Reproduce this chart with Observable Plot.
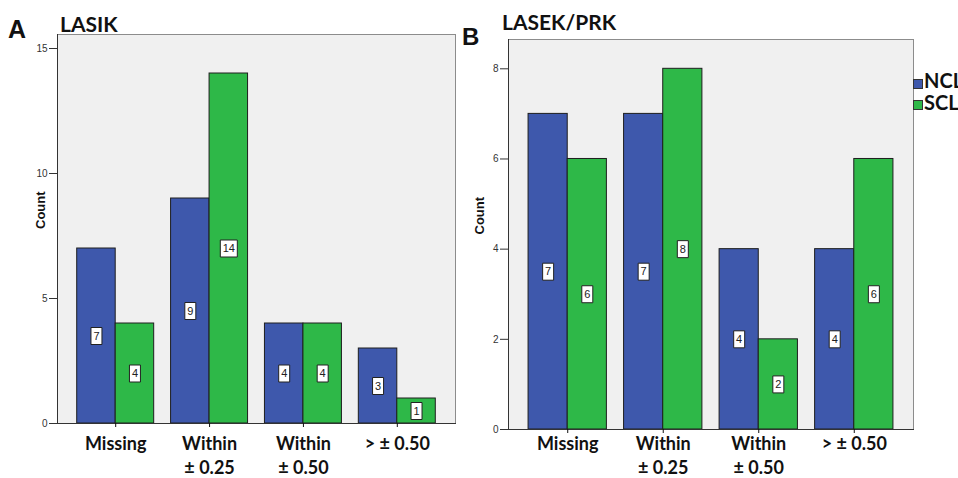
<!DOCTYPE html>
<html>
<head>
<meta charset="utf-8">
<script src="https://cdn.jsdelivr.net/npm/d3@7"></script>
<script src="https://cdn.jsdelivr.net/npm/@observablehq/plot@0.6"></script>
<style>
  html, body { margin: 0; padding: 0; background: #fff; }
  #wrap { position: relative; width: 958px; height: 478px; overflow: hidden; background: #fff; }
  .panel { position: absolute; top: 0; }
  .tag { position: absolute; font-family: "Liberation Sans", Arial, sans-serif; font-weight: bold; line-height: 1; color: #111; }
  .title { position: absolute; font-family: Lato, "Open Sans", sans-serif; font-weight: bold; line-height: 1; color: #111; white-space: nowrap; }
  .leg { position: absolute; font-family: Lato, "Open Sans", sans-serif; font-weight: bold; font-size: 20px; line-height: 20px; color: #111; white-space: nowrap; }
  .sw { position: absolute; width: 8px; height: 8px; border: 1px solid #333; }
</style>
</head>
<body>
<div id="wrap"></div>
<script>
// ---- data ----
const categories = ["Missing", "Within\n± 0.25", "Within\n± 0.50", "> ± 0.50"];
const seriesNames = ["NCL", "SCL"];
const seriesColors = ["#3e58ac", "#2eb848"];

const lasikNCL = [7, 9, 4, 3];
const lasikSCL = [4, 14, 4, 1];
const lasekNCL = [7, 7, 4, 4];
const lasekSCL = [6, 8, 2, 6];

const lasikTicks = [0, 5, 10, 15];
const lasekTicks = [0, 2, 4, 6, 8];

// ---- layout constants ----
const BAR_W = 0.41;
const X_DOMAIN = [-0.62, 3.62];

function rowsFor(ncl, scl) {
  return categories.flatMap((cat, i) => seriesNames.map((s, j) => ({
    i, cat, series: s, j, value: j === 0 ? ncl[i] : scl[i]
  })));
}

function boxSymbol(w, h) {
  return {
    draw(ctx) {
      ctx.moveTo(-w / 2, -h / 2);
      ctx.lineTo(w / 2, -h / 2);
      ctx.lineTo(w / 2, h / 2);
      ctx.lineTo(-w / 2, h / 2);
      ctx.closePath();
    }
  };
}
const box1 = boxSymbol(11, 17);
const box2 = boxSymbol(17, 17);

function panel({ncl, scl, yMax, yTicks, width, marginLeft, marginRight, marginTop, marginBottom, countDx, xPad}) {
  const rows = rowsFor(ncl, scl);
  const cx = d => d.i + (d.j - 0.5) * BAR_W;
  return Plot.plot({
    width, height: 478,
    marginLeft, marginRight, marginTop, marginBottom,
    style: { fontFamily: "'Liberation Sans', Arial, sans-serif", background: "transparent", overflow: "visible" },
    x: { type: "linear", domain: X_DOMAIN },
    y: { domain: [0, yMax] },
    color: { domain: seriesNames, range: seriesColors },
    marks: [
      Plot.frame({ fill: "#f0f0f0", stroke: "#8c8c8c" }),
      Plot.rectY(rows, {
        x1: d => d.i - BAR_W + d.j * BAR_W,
        x2: d => d.i + d.j * BAR_W,
        y1: 0, y2: "value",
        fill: "series", stroke: "#1e1e1e", strokeWidth: 1
      }),
      Plot.dot(rows.filter(d => d.value < 10), { x: cx, y: d => d.value / 2, symbol: box1, fill: "white", stroke: "#222", strokeWidth: 1 }),
      Plot.dot(rows.filter(d => d.value >= 10), { x: cx, y: d => d.value / 2, symbol: box2, fill: "white", stroke: "#222", strokeWidth: 1 }),
      Plot.text(rows, { x: cx, y: d => d.value / 2, text: d => String(d.value), fontSize: 11, fill: "#222" }),
      Plot.frame({ anchor: "left", stroke: "#333" }),
      Plot.frame({ anchor: "bottom", stroke: "#333" }),
      Plot.axisY({ ticks: yTicks, tickSize: 8, tickPadding: 2, fontSize: 10, label: null, color: "#333" }),
      Plot.axisX({
        ticks: [0, 1, 2, 3], tickFormat: i => categories[i], tickSize: 4, tickPadding: xPad,
        fontSize: 18, fontWeight: "bold", fontFamily: "Lato, 'Open Sans', sans-serif",
        lineHeight: 1.3, label: null, color: "#111"
      }),
      Plot.text(["Count"], { frameAnchor: "left", rotate: -90, dx: countDx, fontSize: 13, fontWeight: "bold", fill: "#111" })
    ]
  });
}

const wrap = document.getElementById("wrap");

const a = panel({ ncl: lasikNCL, scl: lasikSCL, yMax: 15.56, yTicks: lasikTicks, width: 460,
  marginLeft: 57, marginRight: 5, marginTop: 34, marginBottom: 55, countDx: -17, xPad: 6 });
a.classList.add("panel"); a.style.left = "0px";
wrap.appendChild(a);

const b = panel({ ncl: lasekNCL, scl: lasekSCL, yMax: 8.65, yTicks: lasekTicks, width: 498,
  marginLeft: 48, marginRight: 45, marginTop: 39, marginBottom: 49, countDx: -29, xPad: 0 });
b.classList.add("panel"); b.style.left = "460px";
wrap.appendChild(b);

function addDiv(cls, text, css) {
  const d = document.createElement("div");
  d.className = cls;
  d.textContent = text;
  Object.assign(d.style, css);
  wrap.appendChild(d);
  return d;
}
addDiv("tag", "A", { left: "8px", top: "17px", fontSize: "25px" });
addDiv("tag", "B", { left: "462px", top: "25px", fontSize: "24px" });
addDiv("title", "LASIK", { left: "60px", top: "13px", fontSize: "21px" });
addDiv("title", "LASEK/PRK", { left: "502px", top: "11px", fontSize: "21px" });

seriesNames.forEach((s, k) => {
  addDiv("sw", "", { left: "913px", top: (79 + k * 21) + "px", background: seriesColors[k] });
  addDiv("leg", s, { left: "924px", top: (70 + k * 22) + "px" });
});
</script>
</body>
</html>
